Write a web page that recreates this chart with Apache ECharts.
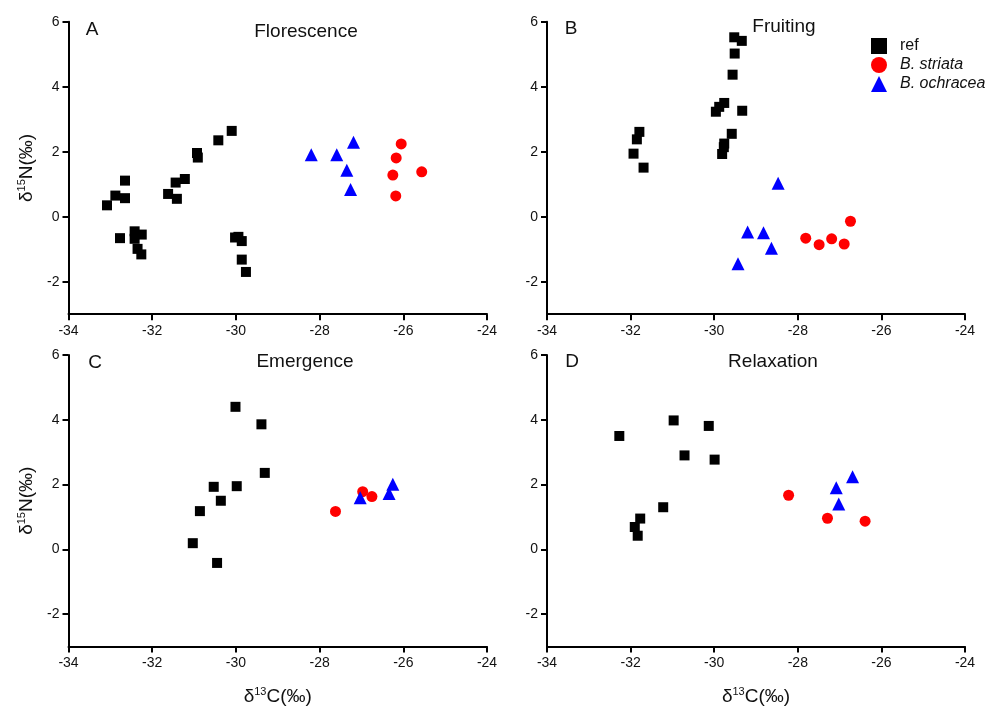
<!DOCTYPE html>
<html><head><meta charset="utf-8">
<script src="https://cdn.jsdelivr.net/npm/echarts@6/dist/echarts.min.js"></script>
<style>html,body{margin:0;padding:0;background:#fff}#c{width:989px;height:707px}</style>
</head><body><div id="c"></div>
<script>
// ---- data ----
const panelLetters = ['A', 'B', 'C', 'D'];
const panelTitles = ['Florescence', 'Fruiting', 'Emergence', 'Relaxation'];
const seriesNames = ['ref', 'B. striata', 'B. ochracea'];
const xTicks = [-34, -32, -30, -28, -26, -24];
const yTicks = [-2, 0, 2, 4, 6];

const refA = [[-33.08,0.35],[-32.88,0.65],[-32.65,1.11],[-32.65,0.57],[-32.77,-0.66],[-32.42,-0.45],[-32.42,-0.68],[-32.25,-0.55],[-32.35,-0.99],[-32.26,-1.16],[-31.62,0.70],[-31.44,1.05],[-31.41,0.55],[-31.22,1.16],[-30.93,1.96],[-30.91,1.82],[-30.42,2.35],[-30.10,2.64],[-30.02,-0.64],[-29.94,-0.62],[-29.86,-0.75],[-29.86,-1.32],[-29.76,-1.70]];
const striataA = [[-26.05,2.24],[-26.17,1.81],[-26.25,1.28],[-25.56,1.38],[-26.18,0.64]];
const ochraceaA = [[-28.20,1.91],[-27.59,1.91],[-27.35,1.43],[-27.19,2.29],[-27.26,0.84]];

const refB = [[-29.52,5.52],[-29.34,5.41],[-29.51,5.02],[-29.56,4.37],[-29.96,3.23],[-29.88,3.38],[-29.76,3.50],[-29.33,3.26],[-29.58,2.55],[-29.76,2.25],[-29.77,2.14],[-29.81,1.93],[-31.79,2.61],[-31.85,2.38],[-31.93,1.94],[-31.69,1.51]];
const striataB = [[-27.81,-0.66],[-27.49,-0.86],[-27.19,-0.68],[-26.89,-0.84],[-26.74,-0.14]];
const ochraceaB = [[-28.47,1.03],[-29.20,-0.47],[-28.82,-0.49],[-28.63,-0.97],[-29.43,-1.45]];

const refC = [[-30.01,4.40],[-29.39,3.86],[-29.31,2.36],[-30.53,1.93],[-29.98,1.95],[-30.36,1.50],[-30.86,1.18],[-31.03,0.19],[-30.45,-0.42]];
const striataC = [[-27.62,1.17],[-26.97,1.78],[-26.75,1.63]];
const ochraceaC = [[-27.03,1.59],[-26.34,1.72],[-26.25,2.01]];

const refD = [[-32.27,3.50],[-30.97,3.98],[-30.13,3.81],[-30.71,2.90],[-29.99,2.77],[-31.22,1.30],[-31.77,0.95],[-31.90,0.69],[-31.83,0.42]];
const striataD = [[-28.22,1.67],[-27.29,0.96],[-26.39,0.87]];
const ochraceaD = [[-27.08,1.90],[-27.02,1.40],[-26.69,2.24]];

const panelData = [[refA, striataA, ochraceaA],[refB, striataB, ochraceaB],[refC, striataC, ochraceaC],[refD, striataD, ochraceaD]];

// ---- layout / style ----
const grids = [
  {left: 68.5, top: 21.7, width: 418.5, height: 292.5},
  {left: 547, top: 21.7, width: 418, height: 292.5},
  {left: 68.5, top: 355, width: 418.5, height: 292.7},
  {left: 547, top: 355, width: 418, height: 292.7}
];
const symbols = ['rect', 'circle', 'triangle'];
const colors = ['#000000', '#ff0000', '#0000ff'];
const sizes = [10, 11, 13];
const FONT = 'Liberation Sans, Arial, sans-serif';
const TXT = '#111';

const nameRich = {
  d: {fontSize: 19, fontFamily: FONT, color: TXT},
  s: {fontSize: 11, fontFamily: FONT, color: TXT, verticalAlign: 'top', padding: [0,0,9,0]}
};

function axisBase() {
  return {
    axisLine: {show: true, onZero: false, lineStyle: {color: '#000', width: 2}},
    axisTick: {show: true, length: 6, lineStyle: {color: '#000', width: 2}},
    splitLine: {show: false},
    axisLabel: {color: TXT, fontSize: 14, fontFamily: FONT, margin: 9}
  };
}

const xAxes = grids.map((g, i) => {
  const a = axisBase();
  a.axisLabel.margin = 10;
  return Object.assign(a, {
    type: 'value', gridIndex: i, min: -34, max: -24, interval: 2,
    name: i >= 2 ? '{d|δ}{s|13}{d|C(‰)}' : '',
    nameLocation: 'middle', nameGap: 40,
    nameTextStyle: {rich: nameRich}
  });
});
const yAxes = grids.map((g, i) => {
  const a = axisBase();
  a.axisLabel.customValues = yTicks;
  a.axisTick.customValues = yTicks;
  return Object.assign(a, {
    type: 'value', gridIndex: i, min: -3, max: 6,
    name: (i % 2 === 0) ? '{d|δ}{s|15}{d|N(‰)}' : '',
    nameLocation: 'middle', nameGap: 32, nameRotate: 90,
    nameTextStyle: {rich: nameRich}
  });
});

const series = [];
panelData.forEach((sets, p) => {
  sets.forEach((d, k) => {
    series.push({
      type: 'scatter', name: seriesNames[k], xAxisIndex: p, yAxisIndex: p,
      data: d, symbol: symbols[k], symbolSize: sizes[k],
      itemStyle: {color: colors[k], opacity: 1}, emphasis: {disabled: true}, z: 3 + k
    });
  });
});

const titlePos = [[306, 32], [784, 27], [305, 362], [773, 362]];
const letterPos = [[92, 30], [571, 29], [95, 363], [572, 362]];
const graphic = [];
panelTitles.forEach((t, i) => {
  graphic.push({type: 'text', x: titlePos[i][0], y: titlePos[i][1], style: {text: t, fill: TXT, font: '19px ' + FONT, textAlign: 'center', textVerticalAlign: 'middle'}});
  graphic.push({type: 'text', x: letterPos[i][0], y: letterPos[i][1], style: {text: panelLetters[i], fill: TXT, font: '19px ' + FONT, textAlign: 'center', textVerticalAlign: 'middle'}});
});

const option = {
  animation: false,
  backgroundColor: '#fff',
  grid: grids,
  xAxis: xAxes,
  yAxis: yAxes,
  series: series,
  graphic: graphic,
  legend: {
    orient: 'vertical', left: 866, top: 33, itemGap: 3, itemWidth: 16, itemHeight: 16,
    data: [
      {name: 'ref', icon: 'rect', itemStyle: {color: '#000'}},
      {name: 'B. striata', icon: 'circle', itemStyle: {color: '#ff0000'}},
      {name: 'B. ochracea', icon: 'triangle', itemStyle: {color: '#0000ff'}}
    ],
    formatter: n => n === 'ref' ? n : '{i|' + n + '}',
    textStyle: {color: TXT, fontSize: 16, fontFamily: FONT, padding: [0,0,0,8], rich: {i: {fontStyle: 'italic', fontSize: 16, fontFamily: FONT, color: TXT}}},
    selectedMode: false
  }
};
const chart = echarts.init(document.getElementById('c'));
chart.setOption(option);
</script></body></html>
